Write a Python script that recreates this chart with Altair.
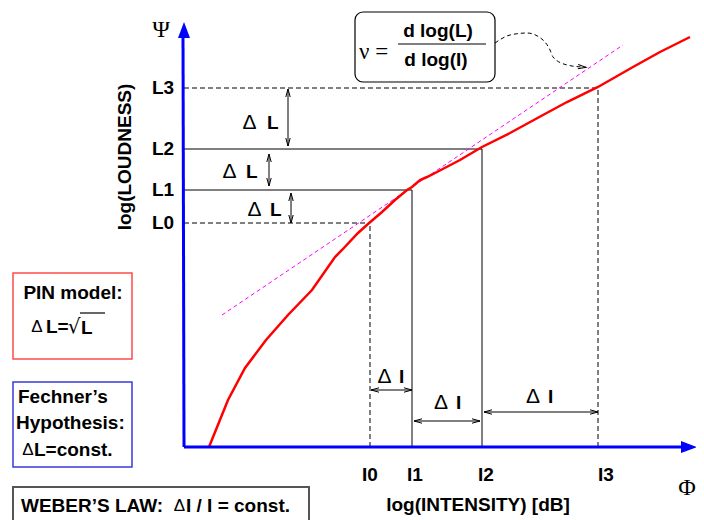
import altair as alt
import pandas as pd

# ---- data (drawing units: x = log intensity, y = log loudness, screen-like) ----
X0, Y0 = 184, 447  # axes crossing

level_names = ["0", "1", "2", "3"]
intensity_levels = [370, 412, 482, 598]
loudness_levels = [223, 190, 149, 88]
level_style = ["dashed", "solid", "solid", "dashed"]

curve_x = [209, 228, 245, 266, 288, 312, 335, 342, 358, 368, 382, 395, 407, 412,
           420, 427, 437, 460, 482, 510, 543, 567, 598, 633, 660, 690]
curve_y = [447, 400, 368, 340, 315, 290, 257, 250, 233, 224, 212, 200, 190, 187,
           180, 177, 172, 160, 147, 133, 115, 102, 87, 67, 52, 37]

tangent_x = [222, 623]
tangent_y = [315, 45]

# delta-L double arrows (x, top, bottom) and delta-I double arrows (y, left, right)
dl_x = [288, 269, 291]
dl_top = [89, 154, 193]
dl_bot = [146, 186, 223]
di_y = [390, 421, 412]
di_left = [371, 414, 484]
di_right = [412, 480, 598]

hint_x = [495, 510, 527, 543, 550, 553, 567, 582]
hint_y = [43, 35, 33, 40, 50, 57, 65, 67]

# ---- scales ----
W, H = 688, 512
XS = alt.Scale(domain=[8, 8 + W], nice=False, zero=False)
YS = alt.Scale(domain=[8, 8 + H], nice=False, zero=False, reverse=True)


def X(f):
    return alt.X(f"{f}:Q", scale=XS, axis=None)


def Y(f):
    return alt.Y(f"{f}:Q", scale=YS, axis=None)


BLUE = "#0000ff"

levels_df = pd.DataFrame({"name": level_names, "I": intensity_levels, "L": loudness_levels,
                          "style": level_style, "x0": X0, "y0": Y0})
dash = alt.StrokeDash("style:N", scale=alt.Scale(domain=["solid", "dashed"], range=[[1, 0], [5, 3]]),
                      legend=None)
h_rules = alt.Chart(levels_df).mark_rule(color="black", strokeWidth=1).encode(
    x=X("x0"), x2="I", y=Y("L"), strokeDash=dash)
v_rules = alt.Chart(levels_df).mark_rule(color="black", strokeWidth=1).encode(
    x=X("I"), y=Y("y0"), y2="L", strokeDash=dash)

tangent = alt.Chart(pd.DataFrame({"x": tangent_x, "y": tangent_y})).mark_line(
    color="#ff00ff", strokeWidth=1, strokeDash=[4, 3]).encode(x=X("x"), y=Y("y"))

curve = alt.Chart(pd.DataFrame({"i": range(len(curve_x)), "x": curve_x, "y": curve_y})).mark_line(
    color="#ff0000", strokeWidth=2.5).encode(x=X("x"), y=Y("y"), order="i:Q")

# axes
axes_df = pd.DataFrame({"x": [X0, X0], "x2": [X0 - 1, 685], "y": [447, Y0], "y2": [36, Y0]})
axis_lines = alt.Chart(axes_df).mark_rule(color=BLUE, strokeWidth=3).encode(
    x=X("x"), x2="x2", y=Y("y"), y2="y2")
axis_heads = alt.Chart(pd.DataFrame({"x": [X0, 689], "y": [30, Y0], "a": [0, 90]})).mark_point(
    shape="M-0.75,1 L0,-1 L0.75,1 Z", filled=True, color=BLUE, size=256, opacity=1).encode(
    x=X("x"), y=Y("y"), angle=alt.Angle("a:Q", scale=None))

# double arrows
vdf = pd.DataFrame({"x": dl_x, "y": dl_top, "y2": dl_bot})
hdf = pd.DataFrame({"x": di_left, "x2": di_right, "y": di_y})
v_shafts = alt.Chart(vdf).mark_rule(color="black", strokeWidth=1).encode(x=X("x"), y=Y("y"), y2="y2")
h_shafts = alt.Chart(hdf).mark_rule(color="black", strokeWidth=1).encode(x=X("x"), x2="x2", y=Y("y"))
heads = []
for x, t, b in zip(dl_x, dl_top, dl_bot):
    heads += [(x, t + 4, 0), (x, b - 4, 180)]
for y, l, r in zip(di_y, di_left, di_right):
    heads += [(l + 4, y, 270), (r - 4, y, 90)]
heads.append((hint_x[-1], hint_y[-1], 95))
heads_df = pd.DataFrame(heads, columns=["x", "y", "a"])
arrow_heads = alt.Chart(heads_df).mark_point(
    shape="M-0.55,1 L0,-1 L0.55,1", filled=False, color="black", strokeWidth=1, size=64, opacity=1).encode(
    x=X("x"), y=Y("y"), angle=alt.Angle("a:Q", scale=None))

hint = alt.Chart(pd.DataFrame({"i": range(len(hint_x)), "x": hint_x, "y": hint_y})).mark_line(
    color="black", strokeWidth=1, strokeDash=[4, 3], interpolate="monotone").encode(
    x=X("x"), y=Y("y"), order="i:Q")


# boxes
def box(x1, y1, x2, y2, color, width, radius=0):
    df = pd.DataFrame({"x": [x1], "x2": [x2], "y": [y1], "y2": [y2]})
    return alt.Chart(df).mark_rect(filled=False, color=color, strokeWidth=width, cornerRadius=radius).encode(
        x=X("x"), x2="x2", y=Y("y"), y2="y2")


formula_box = box(355, 12, 495, 82, "black", 1.2, 8)
pin_box = box(13, 273, 132, 359, "#ff4a4a", 1.5)
fech_box = box(13, 382, 132, 467, "#3a3ae0", 1.5)
weber_box = box(13, 487, 309, 522, "#555555", 2)

bars = alt.Chart(pd.DataFrame({"x": [398, 80], "x2": [486, 105], "y": [44, 313]})).mark_rule(
    color="black", strokeWidth=1.2).encode(x=X("x"), x2="x2", y=Y("y"))


def texts(rows, align="center", font="Liberation Sans", weight="bold", size=19, angle=0):
    df = pd.DataFrame(rows, columns=["t", "x", "y"])
    return alt.Chart(df).mark_text(align=align, baseline="middle", font=font, fontWeight=weight,
                                   fontSize=size, angle=angle, color="black").encode(
        x=X("x"), y=Y("y"), text="t:N")


bold_center = texts(
    [("L" + n, 163, l) for n, l in zip(level_names, loudness_levels)]
    + [("I0", 370, 475), ("I1", 415, 475), ("I2", 486, 475), ("I3", 606, 475),
       ("log(INTENSITY) [dB]", 478, 505), ("d log(L)", 438, 31), ("d log(I)", 436, 60),
       ("PIN model:", 73, 293)])
bold_left = texts(
    [("L", 267, 123), ("L", 246, 172), ("L", 270, 210),
     ("I", 399, 377), ("I", 456, 403), ("I", 548, 397),
     ("L=", 46, 327), ("L", 81, 328), ("Fechner\u2019s", 18, 397), ("Hypothesis:", 16, 423),
     ("L=const.", 34, 450), ("WEBER\u2019S LAW:", 21, 506), ("I / I = const.", 186, 506)],
    align="left")
deltas = texts(
    [("\u0394", 249.5, 123), ("\u0394", 229.5, 172), ("\u0394", 254.5, 210),
     ("\u0394", 384.5, 377), ("\u0394", 441, 403), ("\u0394", 533, 397)],
    weight="normal", size=21)
deltas_small = texts(
    [("\u0394", 37, 327), ("\u0394", 28, 450), ("\u0394", 179.5, 506)],
    weight="normal", size=17)
sqrt_sign = texts([("\u221a", 74, 327)], font="DejaVu Sans", weight="normal", size=20)
greek = texts([("\u03a8", 161, 30), ("\u03a6", 687, 488)], font="Liberation Serif", weight="normal", size=24)
nu = texts([("\u03bd =", 359, 52)], align="left", font="Liberation Serif", weight="normal", size=23)
ylab = texts([("log(LOUDNESS)", 125, 157)], angle=270)

chart = alt.layer(
    h_rules, v_rules, tangent, curve, axis_lines, axis_heads,
    v_shafts, h_shafts, arrow_heads, hint,
    formula_box, pin_box, fech_box, weber_box, bars,
    bold_center, bold_left, deltas, deltas_small, sqrt_sign, greek, nu, ylab,
).properties(width=W, height=H, padding=0, autosize="none", background="white").configure_view(
    strokeWidth=0)

chart.save("out.html", embed_options={"renderer": "svg", "actions": False})
